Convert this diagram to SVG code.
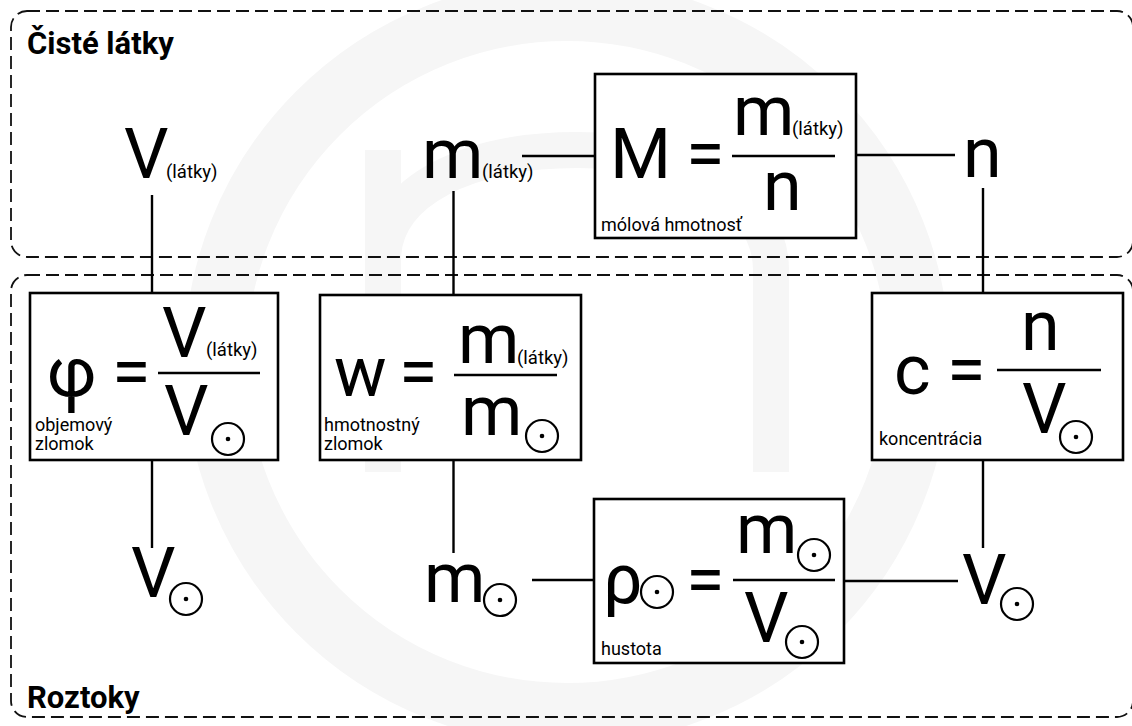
<svg xmlns="http://www.w3.org/2000/svg" width="1132" height="726" viewBox="0 0 1132 726">
<defs>
<style>
.bg{fill:#ffffff}
.wm{fill:none;stroke:#f6f6f6}
.area{fill:none;stroke:#111;stroke-width:1.8;stroke-dasharray:13 6}
.title{font-family:Roboto,"Liberation Sans",sans-serif;font-weight:bold;font-size:31px;fill:#000}
.box{fill:#fff;stroke:#000;stroke-width:2.6}
.big{font-family:Roboto,"Liberation Sans",sans-serif;font-size:70px;fill:#000}
.sub{font-family:Roboto,"Liberation Sans",sans-serif;font-size:18.5px;fill:#000}
.lbl{font-family:Roboto,"Liberation Sans",sans-serif;font-size:18px;fill:#000}
.frac{stroke:#000;stroke-width:2.4}
.con{stroke:#000;stroke-width:2.4;fill:none}
.odot{fill:none;stroke:#000;stroke-width:2.2}
</style>
<g id="sol">
<circle class="odot" cx="0" cy="0" r="16"/>
<circle cx="0" cy="0" r="2.3" fill="#000"/>
</g>
</defs>
<rect class="bg" x="0" y="0" width="1132" height="726"/>
<g id="watermark">
<circle class="wm" cx="567" cy="362" r="352" stroke-width="62"/>
<path class="wm" stroke-width="36" d="M383 472 V150 M383 260 C383 190 470 150 577 150 C690 150 771 200 771 270 V472"/>
</g>
<g id="area-ciste">
<rect class="area" x="11" y="11" width="1122" height="246" rx="16"/>
<text class="title" x="27" y="54">Čisté látky</text>
</g>
<g id="area-roztoky">
<rect class="area" x="11" y="275" width="1122" height="442" rx="16"/>
<text class="title" x="27" y="708">Roztoky</text>
</g>
<g id="connectors">
<line class="con" x1="152" y1="195" x2="152" y2="293"/>
<line class="con" x1="453.5" y1="191" x2="453.5" y2="295"/>
<line class="con" x1="522" y1="156" x2="595" y2="156"/>
<line class="con" x1="856" y1="155" x2="955" y2="155"/>
<line class="con" x1="983" y1="188" x2="983" y2="293"/>
<line class="con" x1="152" y1="460" x2="152" y2="548"/>
<line class="con" x1="453.5" y1="460" x2="453.5" y2="553"/>
<line class="con" x1="983" y1="460" x2="983" y2="548"/>
<line class="con" x1="532" y1="580" x2="594" y2="580"/>
<line class="con" x1="844" y1="581" x2="958" y2="581"/>
</g>
<g id="node-V-latky">
<text class="big" x="124" y="178">V</text>
<text class="sub" x="166" y="178">(látky)</text>
</g>
<g id="node-m-latky">
<text class="big" x="422" y="178">m</text>
<text class="sub" x="482" y="178">(látky)</text>
</g>
<g id="node-n">
<text class="big" x="963" y="177">n</text>
</g>
<g id="node-M">
<rect class="box" x="595" y="74" width="261" height="164"/>
<text class="big" x="610" y="178">M</text>
<text class="big" x="686" y="178">=</text>
<line class="frac" x1="732" y1="156" x2="835" y2="156"/>
<text class="big" x="733" y="135">m</text>
<text class="sub" x="792" y="135">(látky)</text>
<text class="big" x="763" y="210">n</text>
<text class="lbl" x="601" y="231">mólová hmotnosť</text>
</g>
<g id="node-phi">
<rect class="box" x="30" y="293" width="248" height="167"/>
<text class="big" x="47" y="396">φ</text>
<text class="big" x="112" y="396">=</text>
<line class="frac" x1="158" y1="373" x2="260" y2="373"/>
<text class="big" x="162" y="357">V</text>
<text class="sub" x="206" y="356">(látky)</text>
<text class="big" x="164" y="435">V</text>
<use href="#sol" x="228" y="439"/>
<text class="lbl" x="35" y="431">objemový</text>
<text class="lbl" x="35" y="450">zlomok</text>
</g>
<g id="node-w">
<rect class="box" x="320" y="295" width="261" height="165"/>
<text class="big" x="334" y="396">w</text>
<text class="big" x="399" y="396">=</text>
<line class="frac" x1="454" y1="375" x2="557" y2="375"/>
<text class="big" x="458" y="363">m</text>
<text class="sub" x="517" y="364">(látky)</text>
<text class="big" x="461" y="435">m</text>
<use href="#sol" x="542" y="436"/>
<text class="lbl" x="324" y="431">hmotnostný</text>
<text class="lbl" x="324" y="450">zlomok</text>
</g>
<g id="node-c">
<rect class="box" x="872" y="293" width="251" height="167"/>
<text class="big" x="894" y="394">c</text>
<text class="big" x="947" y="394">=</text>
<line class="frac" x1="997" y1="370" x2="1101" y2="370"/>
<text class="big" x="1021" y="350">n</text>
<text class="big" x="1022" y="433">V</text>
<use href="#sol" x="1076" y="437"/>
<text class="lbl" x="879" y="445">koncentrácia</text>
</g>
<g id="node-V-left">
<text class="big" x="131" y="597">V</text>
<use href="#sol" x="186" y="599"/>
</g>
<g id="node-m-sol">
<text class="big" x="424" y="602">m</text>
<use href="#sol" x="500" y="600"/>
</g>
<g id="node-rho">
<rect class="box" x="594" y="499" width="250" height="164"/>
<text class="big" x="603" y="603">ρ</text>
<use href="#sol" x="657" y="592"/>
<text class="big" x="686" y="604">=</text>
<line class="frac" x1="733" y1="580" x2="835" y2="580"/>
<text class="big" x="736" y="553">m</text>
<use href="#sol" x="814" y="555"/>
<text class="big" x="744" y="642">V</text>
<use href="#sol" x="802" y="642"/>
<text class="lbl" x="601" y="655">hustota</text>
</g>
<g id="node-V-right">
<text class="big" x="962" y="604">V</text>
<use href="#sol" x="1017" y="604"/>
</g>
</svg>
